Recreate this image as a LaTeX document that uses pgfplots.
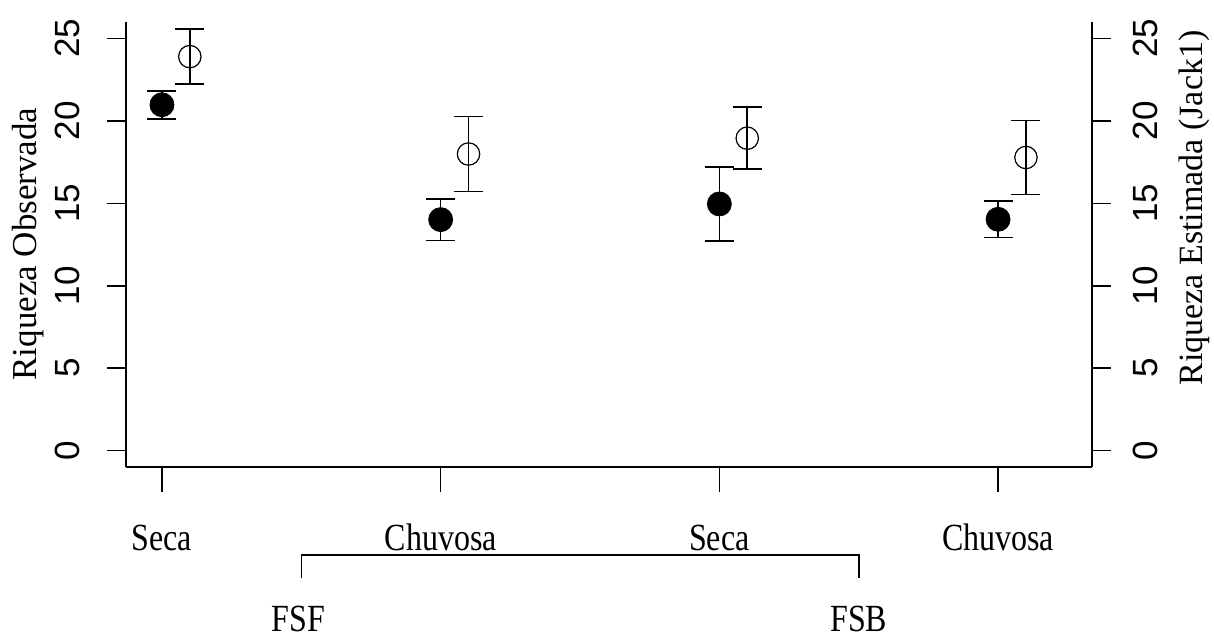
\documentclass[border=0pt]{standalone}
\usepackage{pgfplots}
\pgfplotsset{compat=1.18}
\usepackage{pgfplotstable}
\usepackage{fontspec}
\setmainfont{Liberation Serif}
\newfontfamily\arialfont{Liberation Sans}
\pgfplotstableread{
x y e
1 20.98 0.85
2 14.01 1.26
3 14.96 2.25
4 14.03 1.10
}\obs
\pgfplotstableread{
x y e
1.1 23.90 1.67
2.1 17.99 2.28
3.1 18.95 1.88
4.1 17.78 2.24
}\est
\begin{document}
\begin{tikzpicture}
\path[use as bounding box] (-63pt,-86pt) rectangle (544pt,233.5pt);
\pgfplotsset{
  base/.style={at={(0pt,0pt)}, anchor=south west, scale only axis,
    width=483pt, height=222.5pt, xmin=0.871, xmax=4.337, ymin=-1, ymax=26,
    axis line style={line width=0.8pt}, tick style={line width=0.8pt, black},
    tick align=outside, clip=false},
  ynum/.style={ytick={0,5,10,15,20,25},
    /pgf/number format/assume math mode=true,
    major tick length=9.5pt},
  ebar/.style={draw=none, mark=none, forget plot,
    error bars/.cd, y dir=both, y explicit,
    error mark=-,
    error mark options={rotate=90, mark size=7.25pt, line width=0.8pt, black},
    error bar style={line width=0.8pt, black}}
}
% left y axis
\begin{axis}[base, ynum, axis y line*=left, axis x line=none,
  yticklabel style={font=\arialfont\fontsize{17.5}{17.5}\selectfont, rotate=90, anchor=south, yshift=10pt}]
\end{axis}
% right y axis
\begin{axis}[base, ynum, axis y line*=right, axis x line=none,
  yticklabel style={font=\arialfont\fontsize{17.5}{17.5}\selectfont, rotate=90, anchor=north, yshift=-7.5pt}]
\end{axis}
% x axis and data
\begin{axis}[base, axis x line*=bottom, axis y line=none,
  xtick={1,2,3,4}, xticklabels={Seca,Chuvosa,Seca,Chuvosa},
  major tick length=12.5pt,
  xticklabel style={font=\fontsize{16}{16}\selectfont, yscale=1.2, anchor=center, yshift=-19pt}]
% open (estimated): circle first, error bars over it
\addplot[only marks, mark=o, mark size=5.6pt, mark options={line width=0.6pt, fill=white, draw=black}]
  table[x=x, y=y] {\est};
\addplot[ebar] table[x=x, y=y, y error=e] {\est};
% filled (observed): error bars first, then filled marks
\addplot[ebar] table[x=x, y=y, y error=e] {\obs};
\addplot[only marks, mark=*, mark size=6pt, mark options={fill=black, draw=black}]
  table[x=x, y=y] {\obs};
% bracket
\draw[line width=0.8pt] (axis cs:1.5,-7.74) -- (axis cs:1.5,-6.34) -- (axis cs:3.5,-6.34) -- (axis cs:3.5,-7.74);
\node[font=\fontsize{16}{16}\selectfont, yscale=1.2] at (axis cs:1.49,-10.2) {FSF};
\node[font=\fontsize{16}{16}\selectfont, yscale=1.2] at (axis cs:3.5,-10.2) {FSB};
\end{axis}
\node[rotate=90, font=\fontsize{17.5}{17.5}\selectfont] at (-49pt,111.5pt) {Riqueza Observada};
\node[rotate=90, font=\fontsize{17}{17}\selectfont] at (534pt,129.5pt) {Riqueza Estimada (Jack1)};
\end{tikzpicture}
\end{document}
